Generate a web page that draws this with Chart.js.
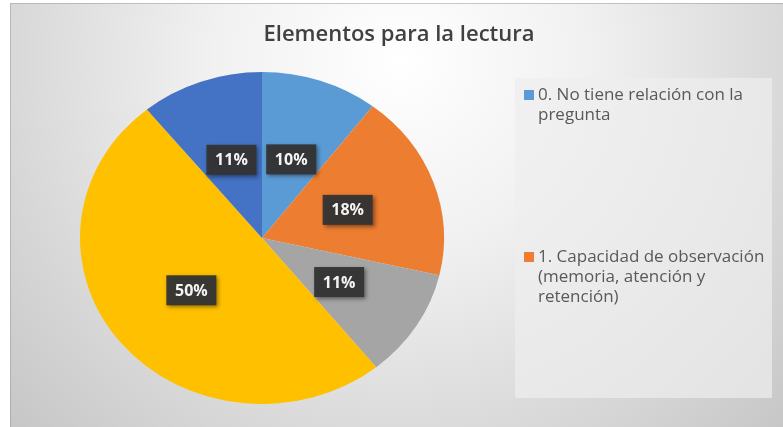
<!DOCTYPE html>
<html>
<head>
<meta charset="utf-8">
<script src="https://cdn.jsdelivr.net/npm/chart.js@4/dist/chart.umd.min.js"></script>
<style>
  html, body { margin: 0; padding: 0; background: #fff; }
  #wrap { width: 783px; height: 427px; position: relative; }
</style>
</head>
<body>
<div id="wrap"><canvas id="pieChart"></canvas></div>
<script>
const chartTitle = "Elementos para la lectura";
const categories = [
  "0. No tiene relación con la pregunta",
  "1. Capacidad de observación (memoria, atención y retención)",
  "2",
  "3",
  "4",
];
const shares = [10.4, 18.2, 10.6, 49.9, 10.9];
const sliceColors = ["#5B9BD5", "#ED7D31", "#A5A5A5", "#FFC000", "#4472C4"];
// only the first two legend entries are visible in the picture
const legendShown = 2;

const flatten = 166 / 182; // pie is drawn a little squashed vertically

function wrapText(ctx, text, maxW) {
  const words = text.split(" ");
  const lines = [];
  let line = "";
  words.forEach((w) => {
    const test = line ? line + " " + w : w;
    if (ctx.measureText(test).width > maxW && line) {
      lines.push(line);
      line = w;
    } else {
      line = test;
    }
  });
  if (line) lines.push(line);
  return lines;
}

const decorPlugin = {
  id: "decor",
  beforeDraw(chart) {
    const ctx = chart.ctx;
    ctx.save();
    ctx.fillStyle = "#ffffff";
    ctx.fillRect(0, 0, chart.width, chart.height);
    const g = ctx.createRadialGradient(400, 60, 0, 400, 60, 620);
    g.addColorStop(0, "#ffffff");
    g.addColorStop(0.3, "#f1f1f1");
    g.addColorStop(1, "#bcbcbc");
    ctx.fillStyle = g;
    ctx.fillRect(10, 3, chart.width - 10, chart.height - 3);
    ctx.strokeStyle = "rgba(150,150,150,0.5)";
    ctx.lineWidth = 1;
    ctx.strokeRect(10.5, 3.5, chart.width, chart.height);

    // legend panel
    ctx.fillStyle = "rgba(238,238,238,0.7)";
    ctx.fillRect(515, 78, 257, 320);

    // title
    ctx.fillStyle = "#404040";
    ctx.font = "600 22px 'Open Sans'";
    ctx.textAlign = "center";
    ctx.textBaseline = "middle";
    ctx.fillText(chartTitle, 399, 35);
    ctx.restore();
  },
  beforeDatasetsDraw(chart) {
    const arc = chart.getDatasetMeta(0).data[0];
    const ctx = chart.ctx;
    ctx.save();
    ctx.translate(0, arc.y);
    ctx.scale(1, flatten);
    ctx.translate(0, -arc.y);
  },
  afterDatasetsDraw(chart) {
    chart.ctx.restore();
  },
  afterDraw(chart) {
    const ctx = chart.ctx;
    const meta = chart.getDatasetMeta(0);
    const total = shares.reduce((a, b) => a + b, 0);
    ctx.save();
    ctx.font = "bold 16px 'Open Sans'";
    ctx.textAlign = "center";
    ctx.textBaseline = "middle";
    meta.data.forEach((el, i) => {
      const mid = (el.startAngle + el.endAngle) / 2;
      const r = el.outerRadius * 0.5;
      const x = el.x + Math.cos(mid) * r;
      const y = el.y + Math.sin(mid) * r * flatten;
      const txt = Math.round((shares[i] / total) * 100) + "%";
      ctx.shadowColor = "rgba(0,0,0,0.45)";
      ctx.shadowBlur = 4;
      ctx.shadowOffsetX = 2;
      ctx.shadowOffsetY = 2;
      ctx.fillStyle = "rgba(52,52,52,0.95)";
      ctx.fillRect(x - 25, y - 15, 50, 30);
      ctx.shadowColor = "transparent";
      ctx.fillStyle = "#f4f4f4";
      ctx.fillText(txt, x, y + 1);
    });

    // legend
    ctx.font = "17px 'Open Sans'";
    ctx.textAlign = "left";
    const starts = [95, 257];
    for (let i = 0; i < legendShown; i++) {
      const lines = wrapText(ctx, categories[i], 234);
      ctx.fillStyle = sliceColors[i];
      ctx.fillRect(524, starts[i] - 5, 10, 10);
      ctx.fillStyle = "#595959";
      lines.forEach((ln, k) => ctx.fillText(ln, 538, starts[i] + k * 20));
    }
    ctx.restore();
  },
};

new Chart(document.getElementById("pieChart"), {
  type: "pie",
  data: {
    labels: categories,
    datasets: [
      {
        data: shares,
        backgroundColor: sliceColors,
        borderWidth: 0,
      },
    ],
  },
  options: {
    responsive: true,
    maintainAspectRatio: false,
    animation: false,
    events: [],
    layout: { padding: { left: 80, right: 339, top: 56, bottom: 7 } },
    plugins: {
      legend: { display: false },
      title: { display: false },
      tooltip: { enabled: false },
    },
  },
  plugins: [decorPlugin],
});
</script>
</body>
</html>
